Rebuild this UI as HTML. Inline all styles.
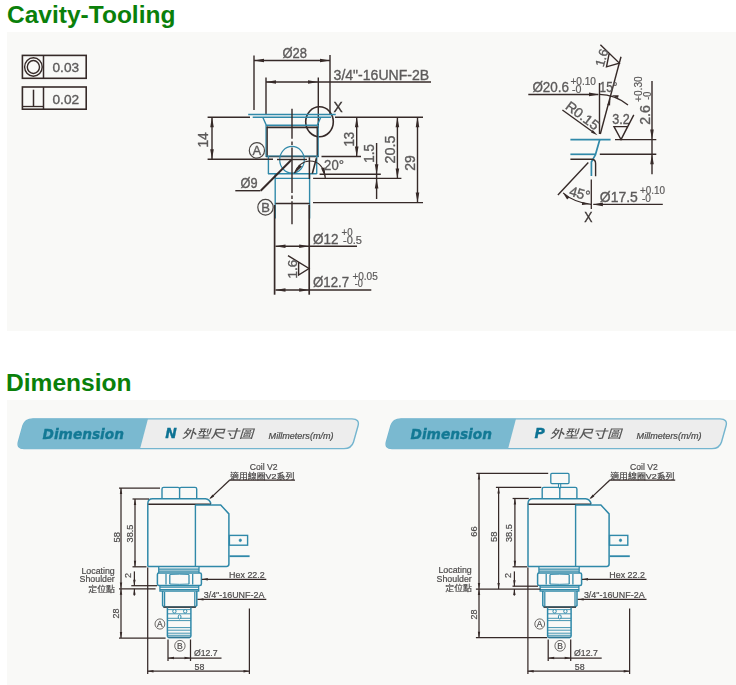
<!DOCTYPE html>
<html lang="zh-Hant"><head><meta charset="utf-8"><title>Cavity-Tooling / Dimension</title>
<style>
html,body{margin:0;padding:0;background:#fff;}
body{width:736px;height:685px;position:relative;overflow:hidden;font-family:"Liberation Sans","Noto Sans CJK TC",sans-serif;}
h2{position:absolute;margin:0;left:7px;font-size:23px;line-height:24px;font-weight:bold;color:#0a800a;white-space:nowrap;letter-spacing:0;transform-origin:0 0;}
#h1{top:3px;transform:scaleX(1.066);} #h2{top:371px;left:6px;transform:scaleX(1.068);}
.panel{position:absolute;left:7px;right:0;background:#f9f9f7;}
#p1{top:32px;height:299px;} #p2{top:400px;height:285px;}
svg{position:absolute;left:0;top:0;will-change:transform;}
svg text{font-family:"Liberation Sans","Noto Sans CJK TC",sans-serif;}
</style></head><body>
<h2 id="h1">Cavity-Tooling</h2>
<div class="panel" id="p1"></div>
<h2 id="h2">Dimension</h2>
<div class="panel" id="p2"></div>
<svg width="736" height="685" viewBox="0 0 736 685">
<g id="cavity">
<rect x="22.4" y="55.4" width="63.8" height="22.9" stroke="#362a28" stroke-width="1.6" fill="none" rx="0"/>
<line x1="43.5" y1="55.4" x2="43.5" y2="78.3" stroke="#362a28" stroke-width="1.5" />
<ellipse cx="33.4" cy="67.0" rx="8.8" ry="9.2" stroke="#362a28" stroke-width="1.4" fill="none" />
<ellipse cx="33.4" cy="67.0" rx="6.1" ry="6.5" stroke="#362a28" stroke-width="1.4" fill="none" />
<text x="52.5" y="72.3" font-size="13.6" text-anchor="start" fill="#5c5a5a" stroke="#5c5a5a" stroke-width="0.35" textLength="26.6" lengthAdjust="spacingAndGlyphs" >0.03</text>
<rect x="22.4" y="87.0" width="63.8" height="22.2" stroke="#362a28" stroke-width="1.6" fill="none" rx="0"/>
<line x1="43.5" y1="87.0" x2="43.5" y2="109.2" stroke="#362a28" stroke-width="1.5" />
<line x1="33.5" y1="89.7" x2="33.5" y2="106.5" stroke="#362a28" stroke-width="1.5" />
<line x1="23.0" y1="106.5" x2="43.5" y2="106.5" stroke="#362a28" stroke-width="1.3" />
<text x="52.5" y="103.8" font-size="13.6" text-anchor="start" fill="#5c5a5a" stroke="#5c5a5a" stroke-width="0.35" textLength="26.6" lengthAdjust="spacingAndGlyphs" >0.02</text>
<line x1="254.0" y1="55.5" x2="254.0" y2="110.0" stroke="#362a28" stroke-width="1.4" />
<line x1="330.0" y1="55.0" x2="330.0" y2="114.0" stroke="#362a28" stroke-width="1.4" />
<line x1="254.0" y1="60.5" x2="330.0" y2="60.5" stroke="#362a28" stroke-width="1.4" />
<polygon points="254.0,60.5 264.0,58.7 264.0,62.3" fill="#362a28"/>
<polygon points="330.0,60.5 320.0,62.3 320.0,58.7" fill="#362a28"/>
<text x="282.5" y="58.3" font-size="14" text-anchor="start" fill="#5c5a5a" stroke="#5c5a5a" stroke-width="0.35" textLength="24.5" lengthAdjust="spacingAndGlyphs" >Ø28</text>
<line x1="266.0" y1="77.5" x2="266.0" y2="115.0" stroke="#362a28" stroke-width="1.4" />
<line x1="318.3" y1="77.5" x2="318.3" y2="128.0" stroke="#362a28" stroke-width="1.4" />
<line x1="266.0" y1="82.0" x2="431.0" y2="82.0" stroke="#362a28" stroke-width="1.4" />
<polygon points="266.0,82.0 276.0,80.2 276.0,83.8" fill="#362a28"/>
<polygon points="318.0,82.0 308.0,83.8 308.0,80.2" fill="#362a28"/>
<text x="333.6" y="80.3" font-size="14" text-anchor="start" fill="#5c5a5a" stroke="#5c5a5a" stroke-width="0.35" textLength="95.5" lengthAdjust="spacingAndGlyphs" >3/4"-16UNF-2B</text>
<ellipse cx="319.5" cy="121.8" rx="13.8" ry="15.0" stroke="#362a28" stroke-width="1.6" fill="none" />
<text x="333.6" y="111.6" font-size="14" text-anchor="start" fill="#3a3432" stroke="#3a3432" stroke-width="0.35" textLength="9.2" lengthAdjust="spacingAndGlyphs" >X</text>
<line x1="207.6" y1="117.2" x2="250.0" y2="117.2" stroke="#362a28" stroke-width="1.4" />
<line x1="335.0" y1="117.2" x2="423.0" y2="117.2" stroke="#362a28" stroke-width="1.4" />
<line x1="248.2" y1="114.5" x2="335.7" y2="114.5" stroke="#3089a9" stroke-width="1.4" />
<line x1="252.7" y1="117.2" x2="331.0" y2="117.2" stroke="#3089a9" stroke-width="1.4" />
<path d="M262.8,117.2 L266.2,125 M320.8,117.2 L317.4,125" stroke="#3089a9" stroke-width="1.4" fill="none" />
<line x1="266.0" y1="125.2" x2="317.7" y2="125.2" stroke="#3089a9" stroke-width="1.4" />
<line x1="266.5" y1="127.4" x2="317.5" y2="127.4" stroke="#362a28" stroke-width="1.8" />
<line x1="267.0" y1="126.5" x2="267.0" y2="156.5" stroke="#362a28" stroke-width="1.7" />
<line x1="317.4" y1="126.5" x2="317.4" y2="156.5" stroke="#362a28" stroke-width="1.7" />
<line x1="265.9" y1="125.0" x2="265.9" y2="157.0" stroke="#3089a9" stroke-width="1.0" />
<line x1="318.3" y1="125.0" x2="318.3" y2="157.0" stroke="#3089a9" stroke-width="1.0" />
<line x1="266.0" y1="156.5" x2="318.5" y2="156.5" stroke="#362a28" stroke-width="1.6" />
<line x1="266.0" y1="156.0" x2="318.4" y2="156.0" stroke="#3089a9" stroke-width="1.0" />
<line x1="268.4" y1="156.0" x2="268.4" y2="174.0" stroke="#3089a9" stroke-width="1.4" />
<line x1="316.7" y1="156.0" x2="316.7" y2="174.0" stroke="#3089a9" stroke-width="1.4" />
<line x1="268.0" y1="173.7" x2="316.7" y2="173.7" stroke="#3089a9" stroke-width="1.4" />
<ellipse cx="292.0" cy="159.8" rx="12.3" ry="13.4" stroke="#3089a9" stroke-width="1.2" fill="none" />
<line x1="275.2" y1="174.0" x2="275.2" y2="218.5" stroke="#3089a9" stroke-width="1.4" />
<line x1="309.6" y1="174.0" x2="309.6" y2="218.5" stroke="#3089a9" stroke-width="1.4" />
<line x1="274.7" y1="178.4" x2="310.0" y2="178.4" stroke="#3089a9" stroke-width="1.4" />
<line x1="313.1" y1="178.4" x2="401.4" y2="178.4" stroke="#362a28" stroke-width="1.4" />
<line x1="275.5" y1="203.5" x2="309.7" y2="203.5" stroke="#362a28" stroke-width="1.3" />
<line x1="313.0" y1="202.6" x2="423.0" y2="202.6" stroke="#362a28" stroke-width="1.4" />
<line x1="274.6" y1="205.0" x2="274.6" y2="294.7" stroke="#362a28" stroke-width="1.7" />
<line x1="309.2" y1="205.0" x2="309.2" y2="294.7" stroke="#362a28" stroke-width="1.7" />
<path d="M292,108.8 V138.8 M292,141.5 V145 M292,147.5 V193 M292,195.5 V199 M292,201.2 V224.3" stroke="#362a28" stroke-width="1.4" fill="none" />
<line x1="207.6" y1="159.2" x2="273.0" y2="159.2" stroke="#362a28" stroke-width="1.4" />
<line x1="277.0" y1="159.5" x2="307.0" y2="159.5" stroke="#362a28" stroke-width="1.4" />
<line x1="321.5" y1="156.5" x2="361.0" y2="156.5" stroke="#362a28" stroke-width="1.4" />
<line x1="235.3" y1="190.7" x2="260.5" y2="190.7" stroke="#362a28" stroke-width="1.4" />
<line x1="260.7" y1="190.7" x2="291.5" y2="159.8" stroke="#362a28" stroke-width="2.0" />
<text x="240.6" y="188.0" font-size="14" text-anchor="start" fill="#5c5a5a" stroke="#5c5a5a" stroke-width="0.35" textLength="17.0" lengthAdjust="spacingAndGlyphs" >Ø9</text>
<line x1="316.4" y1="158.2" x2="312.3" y2="173.6" stroke="#362a28" stroke-width="1.6" />
<line x1="309.4" y1="157.3" x2="309.4" y2="179.0" stroke="#362a28" stroke-width="1.5" />
<path d="M294.4,173.2 C297,166 303,161 310,161 C318,161 324.5,167 325.3,178.1" stroke="#362a28" stroke-width="1.2" fill="none" />
<polygon points="294.4,173.4 299.1,164.4 302.0,166.6" fill="#362a28"/>
<polygon points="325.3,177.6 321.1,168.3 324.6,167.5" fill="#362a28"/>
<line x1="319.6" y1="174.2" x2="380.8" y2="174.2" stroke="#362a28" stroke-width="1.4" />
<text x="324.1" y="170.0" font-size="14" text-anchor="start" fill="#5c5a5a" stroke="#5c5a5a" stroke-width="0.35" textLength="19.8" lengthAdjust="spacingAndGlyphs" >20°</text>
<ellipse cx="256.9" cy="150.4" rx="7.6" ry="7.8" stroke="#4a4644" stroke-width="1.2" fill="none" />
<text x="256.9" y="155.1" font-size="13" text-anchor="middle" fill="#5c5a5a" stroke="#5c5a5a" stroke-width="0.35" >A</text>
<ellipse cx="265.5" cy="207.3" rx="7.7" ry="7.9" stroke="#4a4644" stroke-width="1.2" fill="none" />
<text x="265.5" y="212.0" font-size="13" text-anchor="middle" fill="#5c5a5a" stroke="#5c5a5a" stroke-width="0.35" >B</text>
<line x1="212.0" y1="117.2" x2="212.0" y2="159.2" stroke="#362a28" stroke-width="1.4" />
<polygon points="212.0,117.2 213.8,127.2 210.2,127.2" fill="#362a28"/>
<polygon points="212.0,159.2 210.2,149.2 213.8,149.2" fill="#362a28"/>
<text x="208.2" y="147.6" font-size="14" text-anchor="start" fill="#5c5a5a" stroke="#5c5a5a" stroke-width="0.35" transform="rotate(-90 208.2 147.6)" textLength="15.3" lengthAdjust="spacingAndGlyphs" >14</text>
<line x1="356.7" y1="117.2" x2="356.7" y2="156.5" stroke="#362a28" stroke-width="1.4" />
<polygon points="356.7,117.2 358.5,127.2 354.9,127.2" fill="#362a28"/>
<polygon points="356.7,156.5 354.9,146.5 358.5,146.5" fill="#362a28"/>
<text x="354.0" y="146.6" font-size="14" text-anchor="start" fill="#5c5a5a" stroke="#5c5a5a" stroke-width="0.35" transform="rotate(-90 354.0 146.6)" textLength="14.8" lengthAdjust="spacingAndGlyphs" >13</text>
<line x1="376.6" y1="143.0" x2="376.6" y2="199.0" stroke="#362a28" stroke-width="1.4" />
<polygon points="376.6,174.2 374.8,164.2 378.4,164.2" fill="#362a28"/>
<polygon points="376.6,178.4 378.4,188.4 374.8,188.4" fill="#362a28"/>
<text x="374.4" y="162.7" font-size="14" text-anchor="start" fill="#5c5a5a" stroke="#5c5a5a" stroke-width="0.35" transform="rotate(-90 374.4 162.7)" textLength="18.5" lengthAdjust="spacingAndGlyphs" >1.5</text>
<line x1="397.4" y1="117.2" x2="397.4" y2="178.4" stroke="#362a28" stroke-width="1.4" />
<polygon points="397.4,117.2 399.2,127.2 395.6,127.2" fill="#362a28"/>
<polygon points="397.4,178.4 395.6,168.4 399.2,168.4" fill="#362a28"/>
<text x="394.9" y="163.4" font-size="14" text-anchor="start" fill="#5c5a5a" stroke="#5c5a5a" stroke-width="0.35" transform="rotate(-90 394.9 163.4)" textLength="28.0" lengthAdjust="spacingAndGlyphs" >20.5</text>
<line x1="417.5" y1="117.2" x2="417.5" y2="202.6" stroke="#362a28" stroke-width="1.4" />
<polygon points="417.5,117.2 419.3,127.2 415.7,127.2" fill="#362a28"/>
<polygon points="417.5,202.6 415.7,192.6 419.3,192.6" fill="#362a28"/>
<text x="414.7" y="170.8" font-size="14" text-anchor="start" fill="#5c5a5a" stroke="#5c5a5a" stroke-width="0.35" transform="rotate(-90 414.7 170.8)" textLength="15.5" lengthAdjust="spacingAndGlyphs" >29</text>
<line x1="275.5" y1="246.2" x2="357.0" y2="246.2" stroke="#362a28" stroke-width="1.4" />
<polygon points="275.5,246.2 285.5,244.4 285.5,248.0" fill="#362a28"/>
<polygon points="309.2,246.2 299.2,248.0 299.2,244.4" fill="#362a28"/>
<text x="313.0" y="244.0" font-size="14" text-anchor="start" fill="#5c5a5a" stroke="#5c5a5a" stroke-width="0.35" textLength="25.5" lengthAdjust="spacingAndGlyphs" >Ø12</text>
<text x="341.5" y="235.8" font-size="10" text-anchor="start" fill="#5c5a5a" stroke="#5c5a5a" stroke-width="0.2" textLength="11.0" lengthAdjust="spacingAndGlyphs" >+0</text>
<text x="343.0" y="244.4" font-size="10" text-anchor="start" fill="#5c5a5a" stroke="#5c5a5a" stroke-width="0.2" textLength="19.0" lengthAdjust="spacingAndGlyphs" >-0.5</text>
<line x1="275.5" y1="290.0" x2="371.3" y2="290.0" stroke="#362a28" stroke-width="1.4" />
<polygon points="275.5,290.0 285.5,288.2 285.5,291.8" fill="#362a28"/>
<polygon points="309.2,290.0 299.2,291.8 299.2,288.2" fill="#362a28"/>
<text x="313.0" y="286.6" font-size="14" text-anchor="start" fill="#5c5a5a" stroke="#5c5a5a" stroke-width="0.35" textLength="36.0" lengthAdjust="spacingAndGlyphs" >Ø12.7</text>
<text x="352.4" y="279.7" font-size="10" text-anchor="start" fill="#5c5a5a" stroke="#5c5a5a" stroke-width="0.2" textLength="25.4" lengthAdjust="spacingAndGlyphs" >+0.05</text>
<text x="354.7" y="287.3" font-size="10" text-anchor="start" fill="#5c5a5a" stroke="#5c5a5a" stroke-width="0.2" textLength="8.1" lengthAdjust="spacingAndGlyphs" >-0</text>
<path d="M288,255.6 L309,268.5 L298.6,275 L298.6,262.3" stroke="#362a28" stroke-width="1.4" fill="none" />
<text x="296.6" y="278.6" font-size="12.8" text-anchor="start" fill="#5c5a5a" stroke="#5c5a5a" stroke-width="0.35" transform="rotate(-90 296.6 278.6)" textLength="18.8" lengthAdjust="spacingAndGlyphs" >1.6</text>
<line x1="528.3" y1="94.4" x2="598.3" y2="94.4" stroke="#362a28" stroke-width="1.5" />
<polygon points="599.0,94.4 589.0,96.2 589.0,92.6" fill="#362a28"/>
<text x="532.4" y="91.7" font-size="14.2" text-anchor="start" fill="#5c5a5a" stroke="#5c5a5a" stroke-width="0.35" textLength="36.6" lengthAdjust="spacingAndGlyphs" >Ø20.6</text>
<text x="570.4" y="85.4" font-size="10" text-anchor="start" fill="#5c5a5a" stroke="#5c5a5a" stroke-width="0.2" textLength="25.6" lengthAdjust="spacingAndGlyphs" >+0.10</text>
<text x="572.0" y="92.6" font-size="10" text-anchor="start" fill="#5c5a5a" stroke="#5c5a5a" stroke-width="0.2" textLength="9.5" lengthAdjust="spacingAndGlyphs" >-0</text>
<line x1="599.5" y1="83.0" x2="599.5" y2="134.0" stroke="#362a28" stroke-width="1.4" />
<line x1="621.0" y1="56.7" x2="600.3" y2="134.0" stroke="#362a28" stroke-width="1.4" />
<text x="599.6" y="92.4" font-size="14" text-anchor="start" fill="#5c5a5a" stroke="#5c5a5a" stroke-width="0.35" textLength="17.8" lengthAdjust="spacingAndGlyphs" >15°</text>
<path d="M599.3,94.4 Q615,94.7 628,105" stroke="#362a28" stroke-width="1.3" fill="none" />
<polygon points="611.5,95.2 618.7,95.2 618.0,98.1" fill="#362a28"/>
<polygon points="610.4,98.5 610.1,105.6 607.3,105.0" fill="#362a28"/>
<path d="M600.4,44.8 L619.3,63.1 L606.5,66.8 L609.3,52.9" stroke="#362a28" stroke-width="1.4" fill="none" />
<text x="603.5" y="67.6" font-size="12.8" text-anchor="start" fill="#5c5a5a" stroke="#5c5a5a" stroke-width="0.35" transform="rotate(-74 603.5 67.6)" textLength="18.0" lengthAdjust="spacingAndGlyphs" >1.6</text>
<line x1="562.4" y1="110.0" x2="594.0" y2="132.8" stroke="#362a28" stroke-width="1.4" />
<polygon points="597.5,135.3 591.0,132.4 592.7,130.0" fill="#362a28"/>
<text x="564.4" y="107.9" font-size="13.6" text-anchor="start" fill="#5c5a5a" stroke="#5c5a5a" stroke-width="0.35" transform="rotate(37 564.4 107.9)" textLength="38.0" lengthAdjust="spacingAndGlyphs" >R0.15</text>
<text x="612.2" y="124.2" font-size="14" text-anchor="start" fill="#5c5a5a" stroke="#5c5a5a" stroke-width="0.35" textLength="17.5" lengthAdjust="spacingAndGlyphs" >3.2</text>
<path d="M614,126.6 L627.6,126.6 L621,139.6 Z M621,139.6 L633.8,114.9" stroke="#362a28" stroke-width="1.4" fill="none" />
<line x1="652.0" y1="81.0" x2="652.0" y2="174.3" stroke="#362a28" stroke-width="1.4" />
<polygon points="652.0,139.6 650.2,129.6 653.8,129.6" fill="#362a28"/>
<polygon points="652.0,154.3 653.8,164.3 650.2,164.3" fill="#362a28"/>
<text x="650.0" y="124.8" font-size="15" text-anchor="start" fill="#5c5a5a" stroke="#5c5a5a" stroke-width="0.35" transform="rotate(-90 650.0 124.8)" textLength="19.8" lengthAdjust="spacingAndGlyphs" >2.6</text>
<text x="642.0" y="102.0" font-size="10" text-anchor="start" fill="#5c5a5a" stroke="#5c5a5a" stroke-width="0.2" transform="rotate(-90 642.0 102.0)" textLength="25.7" lengthAdjust="spacingAndGlyphs" >+0.30</text>
<text x="650.6" y="99.7" font-size="10" text-anchor="start" fill="#5c5a5a" stroke="#5c5a5a" stroke-width="0.2" transform="rotate(-90 650.6 99.7)" textLength="8.0" lengthAdjust="spacingAndGlyphs" >-0</text>
<line x1="570.4" y1="139.6" x2="610.6" y2="139.6" stroke="#3089a9" stroke-width="1.7" />
<line x1="615.0" y1="139.6" x2="656.3" y2="139.6" stroke="#362a28" stroke-width="1.4" />
<line x1="570.4" y1="154.3" x2="595.4" y2="154.3" stroke="#3089a9" stroke-width="1.7" />
<line x1="599.8" y1="154.3" x2="656.3" y2="154.3" stroke="#362a28" stroke-width="1.4" />
<path d="M599.8,139.6 L595.4,154.8 Q593,159 591.4,162 L591.4,176" stroke="#3089a9" stroke-width="1.7" fill="none" />
<path d="M570.4,159.2 L591.5,159.2 Q595.6,159.2 595.6,163.5 L595.6,176.3" stroke="#362a28" stroke-width="1.4" fill="none" />
<line x1="588.3" y1="162.4" x2="557.9" y2="195.0" stroke="#362a28" stroke-width="1.4" />
<line x1="591.3" y1="179.6" x2="591.3" y2="209.0" stroke="#362a28" stroke-width="1.3" />
<path d="M563.1,192.9 Q574,202.5 591,204.3" stroke="#362a28" stroke-width="1.2" fill="none" />
<polygon points="563.1,192.9 569.3,197.4 567.1,199.4" fill="#362a28"/>
<polygon points="589.5,204.2 581.9,205.0 582.2,202.1" fill="#362a28"/>
<line x1="593.3" y1="204.4" x2="662.8" y2="204.4" stroke="#362a28" stroke-width="1.4" />
<polygon points="592.9,204.4 602.9,202.6 602.9,206.2" fill="#362a28"/>
<text x="599.8" y="202.2" font-size="14.2" text-anchor="start" fill="#5c5a5a" stroke="#5c5a5a" stroke-width="0.35" textLength="38.0" lengthAdjust="spacingAndGlyphs" >Ø17.5</text>
<text x="640.0" y="194.0" font-size="10" text-anchor="start" fill="#5c5a5a" stroke="#5c5a5a" stroke-width="0.2" textLength="25.0" lengthAdjust="spacingAndGlyphs" >+0.10</text>
<text x="642.0" y="202.0" font-size="10" text-anchor="start" fill="#5c5a5a" stroke="#5c5a5a" stroke-width="0.2" textLength="9.0" lengthAdjust="spacingAndGlyphs" >-0</text>
<text x="568.4" y="195.6" font-size="14" text-anchor="start" fill="#5c5a5a" stroke="#5c5a5a" stroke-width="0.35" transform="rotate(15 568.4 195.6)" textLength="21.0" lengthAdjust="spacingAndGlyphs" >45°</text>
<text x="584.2" y="222.4" font-size="14" text-anchor="start" fill="#3a3432" stroke="#3a3432" stroke-width="0.35" textLength="8.2" lengthAdjust="spacingAndGlyphs" >X</text>
</g>
<g id="dimension">
<path d="M34,418.9 L352,418.9 Q360,418.9 358,426 L353.5,442 Q351.5,448.6 344,448.6 L24,448.6 Q16.5,448.6 18.5,441.5 L23,425.5 Q25,418.9 33,418.9 Z" stroke="#74b5cf" stroke-width="1.4" fill="#ededed" />
<path d="M33,418.8 L148,418.8 L140,449 L24.5,449 Q16.8,449 18.6,441.5 L23,425.5 Q25,418.8 33,418.8 Z" stroke="none" stroke-width="0" fill="#7ab9d0" />
<text x="42.5" y="438.8" font-size="14" text-anchor="start" fill="#137995" stroke="#137995" stroke-width="0.35" textLength="81.5" lengthAdjust="spacingAndGlyphs" font-weight="bold" style="font-family:DejaVu Sans,Liberation Sans,sans-serif" font-style="italic">Dimension</text>
<text x="165.2" y="438.3" font-size="14" text-anchor="start" fill="#0e7394" textLength="11.6" lengthAdjust="spacingAndGlyphs" font-weight="bold" style="font-family:DejaVu Sans,Liberation Sans,sans-serif" font-style="italic" stroke="#0e7394" stroke-width="0.3">N</text>
<text x="181.8" y="437.8" font-size="11.8" text-anchor="start" fill="#585858" textLength="71.5" lengthAdjust="spacingAndGlyphs" font-weight="500" stroke="none" font-style="italic">外型尺寸圖</text>
<text x="268.6" y="438.6" font-size="8.6" text-anchor="start" fill="#4a4a4a" stroke="#4a4a4a" stroke-width="0.2" textLength="65.0" lengthAdjust="spacingAndGlyphs" font-style="italic">Millmeters(m/m)</text>
<path d="M402,418.9 L720,418.9 Q728,418.9 726,426 L721.5,442 Q719.5,448.6 712,448.6 L392,448.6 Q384.5,448.6 386.5,441.5 L391,425.5 Q393,418.9 401,418.9 Z" stroke="#74b5cf" stroke-width="1.4" fill="#ededed" />
<path d="M401,418.8 L516,418.8 L508,449 L392.5,449 Q384.8,449 386.6,441.5 L391,425.5 Q393,418.8 401,418.8 Z" stroke="none" stroke-width="0" fill="#7ab9d0" />
<text x="410.5" y="438.8" font-size="14" text-anchor="start" fill="#137995" stroke="#137995" stroke-width="0.35" textLength="81.5" lengthAdjust="spacingAndGlyphs" font-weight="bold" style="font-family:DejaVu Sans,Liberation Sans,sans-serif" font-style="italic">Dimension</text>
<text x="534.6" y="438.3" font-size="14" text-anchor="start" fill="#0e7394" textLength="10.4" lengthAdjust="spacingAndGlyphs" font-weight="bold" style="font-family:DejaVu Sans,Liberation Sans,sans-serif" font-style="italic" stroke="#0e7394" stroke-width="0.3">P</text>
<text x="549.8" y="437.8" font-size="11.8" text-anchor="start" fill="#585858" textLength="71.5" lengthAdjust="spacingAndGlyphs" font-weight="500" stroke="none" font-style="italic">外型尺寸圖</text>
<text x="636.6" y="438.6" font-size="8.6" text-anchor="start" fill="#4a4a4a" stroke="#4a4a4a" stroke-width="0.2" textLength="65.0" lengthAdjust="spacingAndGlyphs" font-style="italic">Millmeters(m/m)</text>
<path d="M162,498.8 L162,489 Q162,487.4 163.6,487.4 L178,487.4 Q179.6,487.4 179.6,489 L179.6,498.8 M179.6,489 Q179.6,487.4 181.2,487.4 L195.1,487.4 Q196.7,487.4 196.7,489 L196.7,498.8" stroke="#3089a9" stroke-width="1.4" fill="none" />
<path d="M147.8,566.4 L147.8,503.5 Q148,498.8 152.6,498.8 L205.5,498.8 Q209.5,499.2 211,503.8" stroke="#3089a9" stroke-width="1.5" fill="none" />
<path d="M148.3,504.2 L211,504.2" stroke="#362a28" stroke-width="1.5" fill="none" />
<line x1="195.4" y1="504.8" x2="195.4" y2="566.4" stroke="#3089a9" stroke-width="1.4" />
<path d="M195.4,504.9 L220.7,504.9 L228.9,513.9 L228.9,564 Q228.9,566.4 226.5,566.4 L147.8,566.4" stroke="#3089a9" stroke-width="1.5" fill="none" />
<rect x="229.4" y="535.4" width="18.2" height="9.8" stroke="#3089a9" stroke-width="1.4" fill="none" rx="0"/>
<ellipse cx="240.3" cy="540.3" rx="1.2" ry="1.4" stroke="#3089a9" stroke-width="0.6" fill="#3089a9" />
<line x1="229.4" y1="556.2" x2="249.6" y2="556.2" stroke="#3089a9" stroke-width="1.8" />
<path d="M158.7,566.4 L158.7,573 M199,566.4 L199,573 M158.7,569 L199,569 M158.7,571 L199,571" stroke="#3089a9" stroke-width="1.25" fill="none" />
<rect x="157.4" y="573.0" width="44.0" height="12.4" stroke="#3089a9" stroke-width="1.5" fill="none" rx="1.5"/>
<path d="M166,574 L166,584.6 M169.8,574.6 L169.8,584 M189,574.6 L189,584 M192.7,574 L192.7,584.6" stroke="#3089a9" stroke-width="1.25" fill="none" />
<path d="M169.8,574.5 Q179.4,573.9 189,574.5 M169.8,584 Q179.4,584.6 189,584" stroke="#3089a9" stroke-width="0.9" fill="none" />
<path d="M159.9,585.4 L159.9,591 L198.7,591 L198.7,585.4 M159.9,587.2 L198.7,587.2 M159.9,589.6 L198.7,589.6" stroke="#3089a9" stroke-width="1.25" fill="none" />
<path d="M162.6,591 L162.6,605.5 L164,607 L195,607 L196.8,605.5 L196.8,591" stroke="#3089a9" stroke-width="1.5" fill="none" />
<path d="M164.6,592 L164.6,606 M194.8,592 L194.8,606" stroke="#3089a9" stroke-width="1.25" fill="none" />
<line x1="163.5" y1="607.1" x2="195.8" y2="607.1" stroke="#362a28" stroke-width="1.2" />
<path d="M167.4,607.5 L167.4,636 Q167.4,637.4 168.9,637.4 L189.4,637.4 Q190.9,637.4 190.9,636 L190.9,607.5" stroke="#3089a9" stroke-width="1.5" fill="none" />
<line x1="167.4" y1="609.6" x2="190.9" y2="609.6" stroke="#3089a9" stroke-width="0.9" />
<line x1="167.4" y1="613.8" x2="190.9" y2="613.8" stroke="#3089a9" stroke-width="0.9" />
<line x1="167.4" y1="618.3" x2="190.9" y2="618.3" stroke="#3089a9" stroke-width="0.9" />
<line x1="167.4" y1="620.6" x2="190.9" y2="620.6" stroke="#3089a9" stroke-width="0.9" />
<line x1="167.4" y1="627.6" x2="190.9" y2="627.6" stroke="#3089a9" stroke-width="0.9" />
<line x1="167.4" y1="630.2" x2="190.9" y2="630.2" stroke="#3089a9" stroke-width="0.9" />
<line x1="167.4" y1="633.2" x2="190.9" y2="633.2" stroke="#3089a9" stroke-width="0.9" />
<line x1="167.4" y1="635.3" x2="190.9" y2="635.3" stroke="#3089a9" stroke-width="0.9" />
<line x1="168.2" y1="637.4" x2="190.1" y2="637.4" stroke="#2f7896" stroke-width="1.5" />
<ellipse cx="174.4" cy="611.3" rx="1.7" ry="1.8" stroke="#3089a9" stroke-width="1.0" fill="#fafaf8" />
<ellipse cx="185.2" cy="611.3" rx="1.7" ry="1.8" stroke="#3089a9" stroke-width="1.0" fill="#fafaf8" />
<ellipse cx="179.6" cy="616.9" rx="1.4" ry="2.1" stroke="#3089a9" stroke-width="1.0" fill="#fafaf8" />
<ellipse cx="159.9" cy="624.0" rx="4.9" ry="5.1" stroke="#4a4644" stroke-width="0.8" fill="none" />
<text x="159.9" y="627.2" font-size="8.5" text-anchor="middle" fill="#4c4a4a" stroke="#4c4a4a" stroke-width="0.2" >A</text>
<ellipse cx="179.9" cy="645.8" rx="5.2" ry="5.4" stroke="#4a4644" stroke-width="0.8" fill="none" />
<text x="179.9" y="649.0" font-size="8.5" text-anchor="middle" fill="#4c4a4a" stroke="#4c4a4a" stroke-width="0.2" >B</text>
<line x1="168.0" y1="639.5" x2="168.0" y2="661.0" stroke="#362a28" stroke-width="1.25" />
<line x1="190.5" y1="639.5" x2="190.5" y2="661.0" stroke="#362a28" stroke-width="1.25" />
<line x1="168.0" y1="658.0" x2="221.5" y2="658.0" stroke="#362a28" stroke-width="1.25" />
<polygon points="168.0,658.0 174.0,656.8 174.0,659.2" fill="#362a28"/>
<polygon points="190.5,658.0 184.5,659.2 184.5,656.8" fill="#362a28"/>
<text x="193.9" y="656.1" font-size="9.3" text-anchor="start" fill="#4c4a4a" stroke="#4c4a4a" stroke-width="0.2" textLength="23.7" lengthAdjust="spacingAndGlyphs" >Ø12.7</text>
<line x1="147.7" y1="567.5" x2="147.7" y2="674.0" stroke="#362a28" stroke-width="1.25" />
<line x1="249.4" y1="608.5" x2="249.4" y2="674.0" stroke="#362a28" stroke-width="1.25" />
<line x1="147.5" y1="671.2" x2="249.5" y2="671.2" stroke="#362a28" stroke-width="1.25" />
<polygon points="147.5,671.2 153.5,670.0 153.5,672.4" fill="#362a28"/>
<polygon points="249.5,671.2 243.5,672.4 243.5,670.0" fill="#362a28"/>
<text x="194.6" y="670.0" font-size="9.3" text-anchor="start" fill="#4c4a4a" stroke="#4c4a4a" stroke-width="0.2" textLength="9.8" lengthAdjust="spacingAndGlyphs" >58</text>
<line x1="201.8" y1="579.3" x2="266.3" y2="579.3" stroke="#362a28" stroke-width="1.25" />
<polygon points="201.8,579.3 207.8,578.1 207.8,580.5" fill="#362a28"/>
<text x="229.1" y="577.6" font-size="9.3" text-anchor="start" fill="#4c4a4a" stroke="#4c4a4a" stroke-width="0.2" textLength="35.6" lengthAdjust="spacingAndGlyphs" >Hex 22.2</text>
<line x1="197.5" y1="599.4" x2="266.3" y2="599.4" stroke="#362a28" stroke-width="1.25" />
<polygon points="197.5,599.4 203.5,598.2 203.5,600.6" fill="#362a28"/>
<text x="203.7" y="597.7" font-size="9.3" text-anchor="start" fill="#4c4a4a" stroke="#4c4a4a" stroke-width="0.2" textLength="60.7" lengthAdjust="spacingAndGlyphs" >3/4"-16UNF-2A</text>
<text x="249.8" y="470.2" font-size="9.3" text-anchor="start" fill="#4c4a4a" stroke="#4c4a4a" stroke-width="0.2" textLength="27.8" lengthAdjust="spacingAndGlyphs" >Coil V2</text>
<text x="230.0" y="478.5" font-size="7.7" text-anchor="start" fill="#474545" stroke="#474545" stroke-width="0.2" textLength="64.3" lengthAdjust="spacingAndGlyphs" font-family="Liberation Sans, Noto Sans CJK TC, sans-serif">適用線圈V2系列</text>
<line x1="229.1" y1="480.2" x2="295.0" y2="480.2" stroke="#362a28" stroke-width="1.25" />
<line x1="229.5" y1="480.2" x2="210.5" y2="498.1" stroke="#362a28" stroke-width="1.25" />
<polygon points="209.3,499.2 212.4,494.5 214.2,496.4" fill="#362a28"/>
<path d="M542.2,498.8 L542.2,489 Q542.2,487.4 543.8,487.4 L558.2,487.4 Q559.8,487.4 559.8,489 L559.8,498.8 M559.8,489 Q559.8,487.4 561.4,487.4 L575.3,487.4 Q576.9,487.4 576.9,489 L576.9,498.8" stroke="#3089a9" stroke-width="1.4" fill="none" />
<rect x="550.8" y="473.4" width="18.2" height="10.2" stroke="#3089a9" stroke-width="1.3" fill="none" rx="1"/>
<line x1="558.5" y1="483.6" x2="558.5" y2="487.4" stroke="#3089a9" stroke-width="1.1" />
<line x1="560.7" y1="483.6" x2="560.7" y2="487.4" stroke="#3089a9" stroke-width="1.1" />
<path d="M528.0,566.4 L528.0,503.5 Q528.2,498.8 532.8,498.8 L585.7,498.8 Q589.7,499.2 591.2,503.8" stroke="#3089a9" stroke-width="1.5" fill="none" />
<path d="M528.5,504.2 L591.2,504.2" stroke="#362a28" stroke-width="1.5" fill="none" />
<line x1="575.6" y1="504.8" x2="575.6" y2="566.4" stroke="#3089a9" stroke-width="1.4" />
<path d="M575.6,504.9 L600.9,504.9 L609.1,513.9 L609.1,564 Q609.1,566.4 606.7,566.4 L528.0,566.4" stroke="#3089a9" stroke-width="1.5" fill="none" />
<rect x="609.6" y="535.4" width="18.2" height="9.8" stroke="#3089a9" stroke-width="1.4" fill="none" rx="0"/>
<ellipse cx="620.5" cy="540.3" rx="1.2" ry="1.4" stroke="#3089a9" stroke-width="0.6" fill="#3089a9" />
<line x1="609.6" y1="556.2" x2="629.8" y2="556.2" stroke="#3089a9" stroke-width="1.8" />
<path d="M538.9,566.4 L538.9,573 M579.2,566.4 L579.2,573 M538.9,569 L579.2,569 M538.9,571 L579.2,571" stroke="#3089a9" stroke-width="1.25" fill="none" />
<rect x="537.6" y="573.0" width="44.0" height="12.4" stroke="#3089a9" stroke-width="1.5" fill="none" rx="1.5"/>
<path d="M546.2,574 L546.2,584.6 M550.0,574.6 L550.0,584 M569.2,574.6 L569.2,584 M572.9,574 L572.9,584.6" stroke="#3089a9" stroke-width="1.25" fill="none" />
<path d="M550.0,574.5 Q559.6,573.9 569.2,574.5 M550.0,584 Q559.6,584.6 569.2,584" stroke="#3089a9" stroke-width="0.9" fill="none" />
<path d="M540.1,585.4 L540.1,591 L578.9,591 L578.9,585.4 M540.1,587.2 L578.9,587.2 M540.1,589.6 L578.9,589.6" stroke="#3089a9" stroke-width="1.25" fill="none" />
<path d="M542.8,591 L542.8,605.5 L544.2,607 L575.2,607 L577.0,605.5 L577.0,591" stroke="#3089a9" stroke-width="1.5" fill="none" />
<path d="M544.8,592 L544.8,606 M575.0,592 L575.0,606" stroke="#3089a9" stroke-width="1.25" fill="none" />
<line x1="543.7" y1="607.1" x2="576.0" y2="607.1" stroke="#362a28" stroke-width="1.2" />
<path d="M547.6,607.5 L547.6,636 Q547.6,637.4 549.1,637.4 L569.6,637.4 Q571.1,637.4 571.1,636 L571.1,607.5" stroke="#3089a9" stroke-width="1.5" fill="none" />
<line x1="547.6" y1="609.6" x2="571.1" y2="609.6" stroke="#3089a9" stroke-width="0.9" />
<line x1="547.6" y1="613.8" x2="571.1" y2="613.8" stroke="#3089a9" stroke-width="0.9" />
<line x1="547.6" y1="618.3" x2="571.1" y2="618.3" stroke="#3089a9" stroke-width="0.9" />
<line x1="547.6" y1="620.6" x2="571.1" y2="620.6" stroke="#3089a9" stroke-width="0.9" />
<line x1="547.6" y1="627.6" x2="571.1" y2="627.6" stroke="#3089a9" stroke-width="0.9" />
<line x1="547.6" y1="630.2" x2="571.1" y2="630.2" stroke="#3089a9" stroke-width="0.9" />
<line x1="547.6" y1="633.2" x2="571.1" y2="633.2" stroke="#3089a9" stroke-width="0.9" />
<line x1="547.6" y1="635.3" x2="571.1" y2="635.3" stroke="#3089a9" stroke-width="0.9" />
<line x1="548.4" y1="637.4" x2="570.3" y2="637.4" stroke="#2f7896" stroke-width="1.5" />
<ellipse cx="554.6" cy="611.3" rx="1.7" ry="1.8" stroke="#3089a9" stroke-width="1.0" fill="#fafaf8" />
<ellipse cx="565.4" cy="611.3" rx="1.7" ry="1.8" stroke="#3089a9" stroke-width="1.0" fill="#fafaf8" />
<ellipse cx="559.8" cy="616.9" rx="1.4" ry="2.1" stroke="#3089a9" stroke-width="1.0" fill="#fafaf8" />
<ellipse cx="539.7" cy="624.0" rx="4.9" ry="5.1" stroke="#4a4644" stroke-width="0.8" fill="none" />
<text x="539.7" y="627.2" font-size="8.5" text-anchor="middle" fill="#4c4a4a" stroke="#4c4a4a" stroke-width="0.2" >A</text>
<ellipse cx="560.1" cy="645.8" rx="5.2" ry="5.4" stroke="#4a4644" stroke-width="0.8" fill="none" />
<text x="560.1" y="649.0" font-size="8.5" text-anchor="middle" fill="#4c4a4a" stroke="#4c4a4a" stroke-width="0.2" >B</text>
<line x1="548.2" y1="639.5" x2="548.2" y2="661.0" stroke="#362a28" stroke-width="1.25" />
<line x1="570.7" y1="639.5" x2="570.7" y2="661.0" stroke="#362a28" stroke-width="1.25" />
<line x1="548.2" y1="658.0" x2="601.7" y2="658.0" stroke="#362a28" stroke-width="1.25" />
<polygon points="548.2,658.0 554.2,656.8 554.2,659.2" fill="#362a28"/>
<polygon points="570.7,658.0 564.7,659.2 564.7,656.8" fill="#362a28"/>
<text x="574.1" y="656.1" font-size="9.3" text-anchor="start" fill="#4c4a4a" stroke="#4c4a4a" stroke-width="0.2" textLength="23.7" lengthAdjust="spacingAndGlyphs" >Ø12.7</text>
<line x1="527.9" y1="567.5" x2="527.9" y2="674.0" stroke="#362a28" stroke-width="1.25" />
<line x1="629.6" y1="608.5" x2="629.6" y2="674.0" stroke="#362a28" stroke-width="1.25" />
<line x1="527.7" y1="671.2" x2="629.7" y2="671.2" stroke="#362a28" stroke-width="1.25" />
<polygon points="527.7,671.2 533.7,670.0 533.7,672.4" fill="#362a28"/>
<polygon points="629.7,671.2 623.7,672.4 623.7,670.0" fill="#362a28"/>
<text x="574.8" y="670.0" font-size="9.3" text-anchor="start" fill="#4c4a4a" stroke="#4c4a4a" stroke-width="0.2" textLength="9.8" lengthAdjust="spacingAndGlyphs" >58</text>
<line x1="582.0" y1="579.3" x2="646.5" y2="579.3" stroke="#362a28" stroke-width="1.25" />
<polygon points="582.0,579.3 588.0,578.1 588.0,580.5" fill="#362a28"/>
<text x="609.3" y="577.6" font-size="9.3" text-anchor="start" fill="#4c4a4a" stroke="#4c4a4a" stroke-width="0.2" textLength="35.6" lengthAdjust="spacingAndGlyphs" >Hex 22.2</text>
<line x1="577.7" y1="599.4" x2="646.5" y2="599.4" stroke="#362a28" stroke-width="1.25" />
<polygon points="577.7,599.4 583.7,598.2 583.7,600.6" fill="#362a28"/>
<text x="583.9" y="597.7" font-size="9.3" text-anchor="start" fill="#4c4a4a" stroke="#4c4a4a" stroke-width="0.2" textLength="60.7" lengthAdjust="spacingAndGlyphs" >3/4"-16UNF-2A</text>
<text x="630.0" y="470.2" font-size="9.3" text-anchor="start" fill="#4c4a4a" stroke="#4c4a4a" stroke-width="0.2" textLength="27.8" lengthAdjust="spacingAndGlyphs" >Coil V2</text>
<text x="610.2" y="478.5" font-size="7.7" text-anchor="start" fill="#474545" stroke="#474545" stroke-width="0.2" textLength="64.3" lengthAdjust="spacingAndGlyphs" font-family="Liberation Sans, Noto Sans CJK TC, sans-serif">適用線圈V2系列</text>
<line x1="609.3" y1="480.2" x2="675.2" y2="480.2" stroke="#362a28" stroke-width="1.25" />
<line x1="609.7" y1="480.2" x2="590.7" y2="498.1" stroke="#362a28" stroke-width="1.25" />
<polygon points="589.5,499.2 592.6,494.5 594.4,496.4" fill="#362a28"/>
<line x1="119.0" y1="488.0" x2="160.0" y2="488.0" stroke="#362a28" stroke-width="1.25" />
<line x1="121.0" y1="488.0" x2="121.0" y2="588.6" stroke="#362a28" stroke-width="1.25" />
<polygon points="121.0,488.0 122.2,494.0 119.8,494.0" fill="#362a28"/>
<polygon points="121.0,588.6 119.8,582.6 122.2,582.6" fill="#362a28"/>
<text x="119.6" y="542.4" font-size="8.8" text-anchor="start" fill="#4c4a4a" stroke="#4c4a4a" stroke-width="0.2" transform="rotate(-90 119.6 542.4)" textLength="10.4" lengthAdjust="spacingAndGlyphs" >58</text>
<line x1="132.5" y1="499.0" x2="149.0" y2="499.0" stroke="#362a28" stroke-width="1.25" />
<line x1="132.5" y1="566.8" x2="146.5" y2="566.8" stroke="#362a28" stroke-width="1.25" />
<line x1="135.0" y1="499.0" x2="135.0" y2="566.8" stroke="#362a28" stroke-width="1.25" />
<polygon points="135.0,499.0 136.2,505.0 133.8,505.0" fill="#362a28"/>
<polygon points="135.0,566.8 133.8,560.8 136.2,560.8" fill="#362a28"/>
<text x="133.0" y="542.4" font-size="8.8" text-anchor="start" fill="#4c4a4a" stroke="#4c4a4a" stroke-width="0.2" transform="rotate(-90 133.0 542.4)" textLength="17.8" lengthAdjust="spacingAndGlyphs" >38.5</text>
<line x1="131.3" y1="585.7" x2="157.0" y2="585.7" stroke="#362a28" stroke-width="1.25" />
<line x1="119.0" y1="588.8" x2="155.6" y2="588.8" stroke="#362a28" stroke-width="1.25" />
<line x1="134.4" y1="571.4" x2="134.4" y2="585.7" stroke="#362a28" stroke-width="1.25" />
<polygon points="134.4,585.7 133.2,579.7 135.6,579.7" fill="#362a28"/>
<line x1="134.4" y1="588.8" x2="134.4" y2="595.6" stroke="#362a28" stroke-width="1.25" />
<polygon points="134.4,588.8 135.6,594.8 133.2,594.8" fill="#362a28"/>
<text x="131.3" y="577.9" font-size="9.3" text-anchor="start" fill="#4c4a4a" stroke="#4c4a4a" stroke-width="0.2" transform="rotate(-90 131.3 577.9)" textLength="5.0" lengthAdjust="spacingAndGlyphs" >2</text>
<line x1="121.0" y1="588.8" x2="121.0" y2="638.0" stroke="#362a28" stroke-width="1.25" />
<polygon points="121.0,588.8 122.2,594.8 119.8,594.8" fill="#362a28"/>
<polygon points="121.0,638.0 119.8,632.0 122.2,632.0" fill="#362a28"/>
<text x="119.4" y="618.6" font-size="8.8" text-anchor="start" fill="#4c4a4a" stroke="#4c4a4a" stroke-width="0.2" transform="rotate(-90 119.4 618.6)" textLength="10.0" lengthAdjust="spacingAndGlyphs" >28</text>
<line x1="119.0" y1="638.0" x2="165.6" y2="638.0" stroke="#362a28" stroke-width="1.25" />
<text x="81.4" y="573.6" font-size="9.3" text-anchor="start" fill="#4c4a4a" stroke="#4c4a4a" stroke-width="0.2" textLength="33.4" lengthAdjust="spacingAndGlyphs" >Locating</text>
<text x="79.6" y="581.6" font-size="9.3" text-anchor="start" fill="#4c4a4a" stroke="#4c4a4a" stroke-width="0.2" textLength="35.2" lengthAdjust="spacingAndGlyphs" >Shoulder</text>
<text x="114.8" y="591.6" font-size="7.6" text-anchor="end" fill="#4c4a4a" stroke="#4c4a4a" stroke-width="0.2" textLength="26.5" lengthAdjust="spacingAndGlyphs" font-family="Liberation Sans, Noto Sans CJK TC, sans-serif">定位點</text>
<line x1="476.4" y1="473.4" x2="548.2" y2="473.4" stroke="#362a28" stroke-width="1.25" />
<line x1="479.0" y1="473.4" x2="479.0" y2="589.0" stroke="#362a28" stroke-width="1.25" />
<polygon points="479.0,473.4 480.2,479.4 477.8,479.4" fill="#362a28"/>
<polygon points="479.0,589.0 477.8,583.0 480.2,583.0" fill="#362a28"/>
<text x="477.0" y="536.7" font-size="8.8" text-anchor="start" fill="#4c4a4a" stroke="#4c4a4a" stroke-width="0.2" transform="rotate(-90 477.0 536.7)" textLength="10.4" lengthAdjust="spacingAndGlyphs" >66</text>
<line x1="495.9" y1="487.4" x2="541.3" y2="487.4" stroke="#362a28" stroke-width="1.25" />
<line x1="498.6" y1="487.4" x2="498.6" y2="589.0" stroke="#362a28" stroke-width="1.25" />
<polygon points="498.6,487.4 499.8,493.4 497.4,493.4" fill="#362a28"/>
<polygon points="498.6,589.0 497.4,583.0 499.8,583.0" fill="#362a28"/>
<text x="496.7" y="542.0" font-size="8.8" text-anchor="start" fill="#4c4a4a" stroke="#4c4a4a" stroke-width="0.2" transform="rotate(-90 496.7 542.0)" textLength="10.4" lengthAdjust="spacingAndGlyphs" >58</text>
<line x1="512.6" y1="498.5" x2="528.8" y2="498.5" stroke="#362a28" stroke-width="1.25" />
<line x1="512.6" y1="566.8" x2="527.3" y2="566.8" stroke="#362a28" stroke-width="1.25" />
<line x1="514.9" y1="498.5" x2="514.9" y2="566.8" stroke="#362a28" stroke-width="1.25" />
<polygon points="514.9,498.5 516.1,504.5 513.7,504.5" fill="#362a28"/>
<polygon points="514.9,566.8 513.7,560.8 516.1,560.8" fill="#362a28"/>
<text x="512.4" y="542.0" font-size="8.8" text-anchor="start" fill="#4c4a4a" stroke="#4c4a4a" stroke-width="0.2" transform="rotate(-90 512.4 542.0)" textLength="17.8" lengthAdjust="spacingAndGlyphs" >38.5</text>
<line x1="512.5" y1="586.2" x2="538.0" y2="586.2" stroke="#362a28" stroke-width="1.25" />
<line x1="475.9" y1="589.0" x2="540.4" y2="589.0" stroke="#362a28" stroke-width="1.25" />
<line x1="514.4" y1="571.4" x2="514.4" y2="586.2" stroke="#362a28" stroke-width="1.25" />
<polygon points="514.4,586.2 513.2,580.2 515.6,580.2" fill="#362a28"/>
<line x1="514.4" y1="589.0" x2="514.4" y2="595.6" stroke="#362a28" stroke-width="1.25" />
<polygon points="514.4,589.0 515.6,595.0 513.2,595.0" fill="#362a28"/>
<text x="511.5" y="577.9" font-size="9.3" text-anchor="start" fill="#4c4a4a" stroke="#4c4a4a" stroke-width="0.2" transform="rotate(-90 511.5 577.9)" textLength="5.0" lengthAdjust="spacingAndGlyphs" >2</text>
<line x1="479.0" y1="589.0" x2="479.0" y2="637.7" stroke="#362a28" stroke-width="1.25" />
<polygon points="479.0,589.0 480.2,595.0 477.8,595.0" fill="#362a28"/>
<polygon points="479.0,637.7 477.8,631.7 480.2,631.7" fill="#362a28"/>
<text x="476.9" y="619.6" font-size="8.8" text-anchor="start" fill="#4c4a4a" stroke="#4c4a4a" stroke-width="0.2" transform="rotate(-90 476.9 619.6)" textLength="10.0" lengthAdjust="spacingAndGlyphs" >28</text>
<line x1="475.9" y1="637.7" x2="547.2" y2="637.7" stroke="#362a28" stroke-width="1.25" />
<text x="438.4" y="573.2" font-size="9.3" text-anchor="start" fill="#4c4a4a" stroke="#4c4a4a" stroke-width="0.2" textLength="33.4" lengthAdjust="spacingAndGlyphs" >Locating</text>
<text x="436.6" y="581.8" font-size="9.3" text-anchor="start" fill="#4c4a4a" stroke="#4c4a4a" stroke-width="0.2" textLength="35.2" lengthAdjust="spacingAndGlyphs" >Shoulder</text>
<text x="471.8" y="591.4" font-size="7.6" text-anchor="end" fill="#4c4a4a" stroke="#4c4a4a" stroke-width="0.2" textLength="26.5" lengthAdjust="spacingAndGlyphs" font-family="Liberation Sans, Noto Sans CJK TC, sans-serif">定位點</text>
</g>
</svg>
</body></html>
